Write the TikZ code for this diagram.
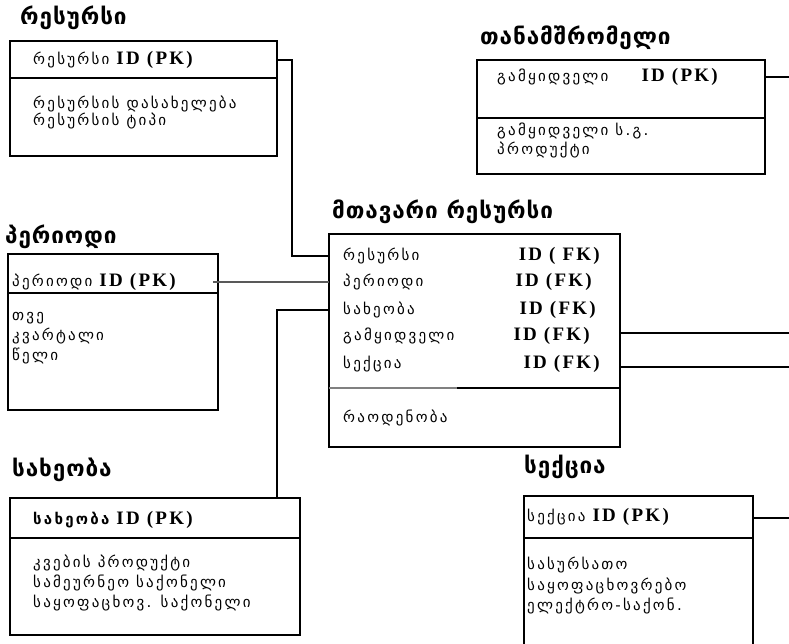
\documentclass[tikz,border=0pt]{standalone}
\usepackage{fontspec}
\setmainfont{DejaVu Sans}
\newfontfamily\geo[LetterSpace=15]{DejaVu Sans}
\newfontfamily\geot[LetterSpace=4]{DejaVu Sans}
\newfontfamily\idf[LetterSpace=12]{Liberation Serif}
\newcommand{\idtext}[1]{{\idf\bfseries\fontsize{19}{19}\selectfont #1}}
\begin{document}
\begin{tikzpicture}[x=1pt,y=-1pt]
\tikzset{
 ent/.style={draw, line width=1.3pt, anchor=north west, inner sep=0pt, outer sep=0pt},
 ttl/.style={anchor=west, inner sep=0pt, font=\geot\bfseries\fontsize{22.5}{22.5}\selectfont},
 txt/.style={anchor=west, inner sep=0pt, font=\geo\fontsize{15}{15}\selectfont},
 idt/.style={anchor=east, inner sep=0pt, font=\idf\bfseries\fontsize{19}{19}\selectfont},
 body/.style={anchor=west, inner sep=0pt, align=left, font=\geo\fontsize{15}{#1}\selectfont},
 sep/.style={line width=1.3pt},
 link/.style={line width=1.3pt},
 plink/.style={line width=1.8pt, gray!70!black},
}
\useasboundingbox (0,0) rectangle (789,644);

% ---- resource
\node[ttl] (t1) at (20,18) {რესურსი};
\node[ent, minimum width=267pt, minimum height=115pt] (rbox) at (10,41) {};
\draw[sep] (10,78) -- (277,78);
\node[txt] (rpk) at (33,60) {რესურსი \idtext{ID (PK)}};
\node[body=17.5] (rbody) at (33,112.5) {რესურსის დასახელება\\რესურსის ტიპი};

% ---- employee
\node[ttl] (t2) at (480,38) {თანამშრომელი};
\node[ent, minimum width=288pt, minimum height=114pt] (ebox) at (477,60) {};
\draw[sep] (477,118) -- (765,118);
\node[txt] (epk) at (497,77) {გამყიდველი};
\node[idt] (eid) at (718,77) {ID (PK)};
\node[body=19] (ebody) at (497,140.5) {გამყიდველი ს.გ.\\პროდუქტი};

% ---- period
\node[ttl] (t3) at (5,237) {პერიოდი};
\node[ent, minimum width=210pt, minimum height=156pt] (pbox) at (8,254) {};
\draw[sep] (8,293) -- (218,293);
\node[txt] (ppk) at (12,282) {პერიოდი \idtext{ID (PK)}};
\node[body=20] (pbody) at (12,338) {თვე\\კვარტალი\\წელი};

% ---- main resource
\node[ttl] (t4) at (332,212) {მთავარი რესურსი};
\node[ent, minimum width=291pt, minimum height=213pt] (main) at (329,234) {};
\draw[line width=1.3pt, gray] (329,388) -- (457,388);
\draw[sep] (457,388) -- (620,388);
\node[txt] (m1) at (343,256) {რესურსი};
\node[txt] (m2) at (343,282) {პერიოდი};
\node[txt] (m3) at (343,310) {სახეობა};
\node[txt] (m4) at (343,336) {გამყიდველი};
\node[txt] (m5) at (343,364) {სექცია};
\node[idt] (i1) at (600,256) {ID ( FK)};
\node[idt] (i2) at (592,282) {ID (FK)};
\node[idt] (i3) at (596,310) {ID (FK)};
\node[idt] (i4) at (590,336) {ID (FK)};
\node[idt] (i5) at (600,364) {ID (FK)};
\node[txt] (mbody) at (343,418) {რაოდენობა};

% ---- kind
\node[ttl] (t5) at (12,470) {სახეობა};
\node[ent, minimum width=290pt, minimum height=137pt] (kbox) at (10,498) {};
\draw[sep] (10,538) -- (300,538);
\node[txt] (kpk) at (33,520) {{\bfseries სახეობა} \idtext{ID (PK)}};
\node[body=20] (kbody) at (33,583) {კვების პროდუქტი\\სამეურნეო საქონელი\\საყოფაცხოვ. საქონელი};

% ---- section
\node[ttl] (t6) at (524,467) {სექცია};
\node[ent, minimum width=229pt, minimum height=160pt] (sbox) at (524,496) {};
\draw[sep] (524,538) -- (753,538);
\node[txt] (spk) at (527,517) {სექცია \idtext{ID (PK)}};
\node[body=20.5] (sbody) at (527,586) {სასურსათო\\საყოფაცხოვრებო\\ელექტრო-საქონ.};

% ---- connectors
\coordinate (e0) at (789,77);
\coordinate (e1) at (789,333);
\coordinate (e2) at (789,367);
\coordinate (e3) at (789,518);
\draw[link] (rbox.east |- rpk) -- ++(15,0) |- (main.west |- m1);
\draw[plink] ([xshift=-5pt]pbox.east |- ppk) -- (main.west |- m2);
\draw[link] (main.west |- m3) -| ([xshift=122pt]kbox.north);
\draw[link] (main.east |- e1) -- (e1);
\draw[link] (main.east |- e2) -- (e2);
\draw[link] (ebox.east |- e0) -- (e0);
\draw[link] (sbox.east |- e3) -- (e3);
\end{tikzpicture}
\end{document}
